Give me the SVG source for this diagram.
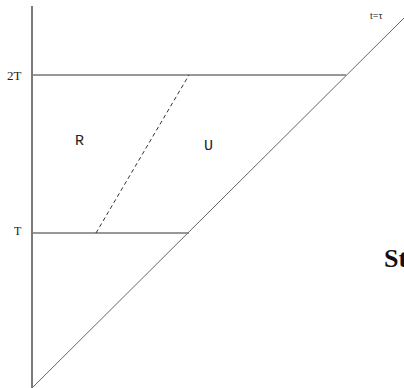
<svg xmlns="http://www.w3.org/2000/svg" width="404" height="388" viewBox="0 0 404 388">
<style>
.ax{stroke:#7a7a7a;stroke-width:2;fill:none}
.hl{stroke:#333;stroke-width:1.2;fill:none}
.dg{stroke:#666;stroke-width:1;fill:none}
.ds{stroke:#333;stroke-width:1;stroke-dasharray:4,3;fill:none}
.lb{font-family:"Liberation Serif","Times New Roman","DejaVu Serif",serif;font-size:12px;fill:#222}
.mn{font-family:"Liberation Mono","Courier New","DejaVu Sans Mono",monospace;font-size:15px;fill:#222}
.big{font-family:"Liberation Serif","Times New Roman","DejaVu Serif",serif;font-size:26px;font-weight:bold;fill:#111}
</style>
<rect width="404" height="388" fill="#fff"/>
<g id="connectors">
<line class="ax" x1="32" y1="6" x2="32" y2="388"/>
<line class="hl" x1="33" y1="75" x2="346" y2="75"/>
<line class="hl" x1="33" y1="233" x2="189" y2="233"/>
<line class="dg" x1="33" y1="387" x2="404" y2="18"/>
<line class="ds" x1="96" y1="233" x2="189" y2="75"/>
</g>
<g id="label-2T"><text class="lb" x="7" y="80" style="font-size:13px">2T</text></g>
<g id="label-T"><text class="lb" x="14" y="235">T</text></g>
<g id="label-R"><text class="mn" x="75" y="145">R</text></g>
<g id="label-U"><text class="mn" x="204" y="150">U</text></g>
<g id="label-t"><text class="lb" x="370" y="19" style="font-size:10px">t=τ</text></g>
<g id="label-St"><text class="big" x="384" y="267">St</text></g>
</svg>
